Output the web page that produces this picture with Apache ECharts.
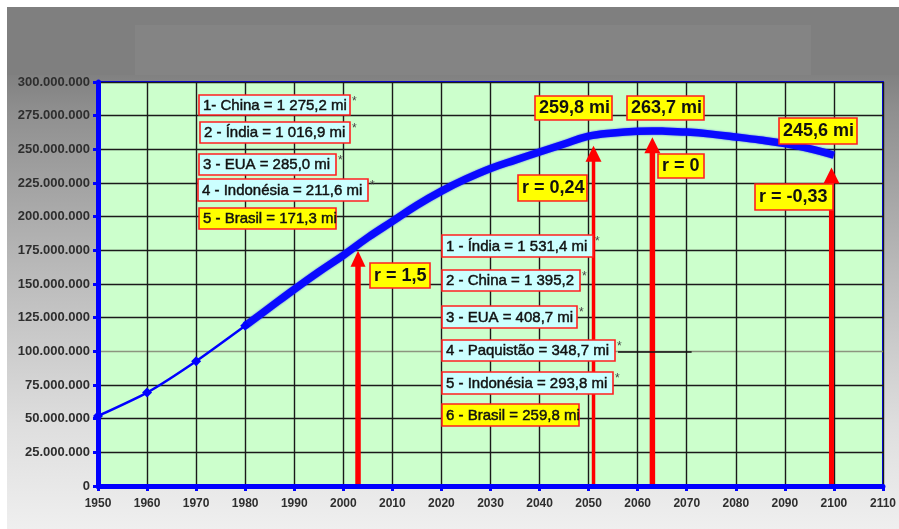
<!DOCTYPE html>
<html>
<head>
<meta charset="utf-8">
<script src="https://cdn.jsdelivr.net/npm/echarts@6/dist/echarts.min.js"></script>
<style>
  html, body { margin: 0; padding: 0; background: #ffffff; }
  #chart { width: 899px; height: 529px; }
</style>
</head>
<body>
<div id="chart"></div>
<script>
// População do Brasil (milhões de habitantes), 1950–2100
const anosCenso = [1950, 1960, 1970, 1980];
const popCenso = [52.0, 69.4, 92.7, 119.0];

const anosProjecao = [1980, 1985, 1990, 1995, 2000, 2005, 2010, 2015, 2020, 2025, 2030, 2035,
  2040, 2045, 2050, 2055, 2060, 2063, 2065, 2070, 2075, 2080, 2085, 2090, 2095, 2100];
const popProjecao = [119.0, 132.5, 146.0, 159.0, 171.3, 184.5, 196.5, 208.5, 219.0, 228.0, 235.8, 242.0,
  248.0, 254.0, 259.8, 262.2, 263.5, 263.7, 263.6, 262.8, 261.3, 259.2, 256.9, 254.2, 250.5, 245.6];

// Setas de taxa de crescimento (ano, topo da seta em milhões)
const anosSetas = [2003, 2051, 2063, 2099.5];
const topoSetas = [174.7, 252.6, 259.0, 236.5];
const taxas = ['1,5', '0,24', '0', '-0,33'];

// Valores em destaque
const destaqueValores = [259.8, 263.7, 245.6];

// Rankings populacionais
const ranking2000 = ['1- China = 1 275,2 mi', '2 - Índia = 1 016,9 mi', '3 - EUA = 285,0 mi',
  '4 - Indonésia = 211,6 mi', '5 - Brasil = 171,3 mi'];
const ranking2050 = ['1 - Índia = 1 531,4 mi', '2 - China = 1 395,2', '3 - EUA = 408,7 mi',
  '4 - Paquistão = 348,7 mi', '5 - Indonésia = 293,8 mi', '6 - Brasil = 259,8 mi'];

const yTicks = [0, 25, 50, 75, 100, 125, 150, 175, 200, 225, 250, 275, 300];

// ---- layout / style ----
const AZUL = '#0000ff';
const VERMELHO = '#ff0000';
const FONTE = '"Liberation Sans", Arial, sans-serif';

const caixas2000 = [
  [199, 95, 151, 20], [200, 122, 150, 21], [199, 154, 137, 21], [198, 179, 170, 22], [199, 208, 137, 21]
];
const caixas2050 = [
  [442, 235, 151, 22], [442, 270, 138, 21], [442, 306, 135, 22], [442, 340, 173, 21], [442, 372, 171, 22], [442, 404, 137, 22]
];
const caixasValores = [[535, 96, 77, 24], [627, 96, 77, 24], [779, 118, 78, 26]];
const caixasTaxas = [[370, 263, 60, 25], [518, 175, 69, 26], [658, 154, 46, 24], [755, 184, 78, 26]];
const estiloSetas = [
  { w: 5.5, hw: 15, head: 16 },
  { w: 3.5, hw: 16, head: 16 },
  { w: 5.5, hw: 16, head: 16 },
  { w: 5, hw: 16, head: 16 }
];

function fmtMi(v) { return v.toFixed(1).replace('.', ',') + ' mi'; }
function fmtEixo(v) { return v === 0 ? '0' : v + '.000.000'; }

const Z_CAIXA = 100;

function caixa(b, texto, fundo, fonte, asterisco, traco) {
  const children = [
    { type: 'rect', z: Z_CAIXA, shape: { x: b[0], y: b[1], width: b[2], height: b[3] },
      style: { fill: fundo, stroke: '#ff2020', lineWidth: 1.6 } },
    { type: 'text', z: Z_CAIXA + 1, style: { x: b[0] + 4, y: b[1] + b[3] / 2 + 0.5, text: texto, font: fonte,
      fill: '#111111', stroke: '#111111', lineWidth: traco, verticalAlign: 'middle', align: 'left' } }
  ];
  if (asterisco) {
    children.push({ type: 'text', z: Z_CAIXA + 1, style: { x: b[0] + b[2] + 2, y: b[1] + 1, text: '*',
      font: '12px ' + FONTE, fill: '#444444', verticalAlign: 'top', align: 'left' } });
  }
  return children;
}

const graficos = [
  // moldura de fundo
  { type: 'rect', z: -20, shape: { x: 7, y: 7, width: 892, height: 522 },
    style: { fill: new echarts.graphic.LinearGradient(0, 0, 0, 1, [
      { offset: 0, color: '#7f7f7f' }, { offset: 0.13, color: '#818181' },
      { offset: 0.2, color: '#8f8f8f' }, { offset: 0.5, color: '#b9b9b9' },
      { offset: 0.8, color: '#dedede' }, { offset: 1, color: '#efefef' }]) } },
  { type: 'rect', z: -19, shape: { x: 7, y: 7, width: 892, height: 68 }, style: { fill: '#7f7f7f' } },
  { type: 'rect', z: -18, shape: { x: 135, y: 25, width: 676, height: 50 }, style: { fill: '#848484' } }
];
ranking2000.forEach((t, i) => graficos.push(...caixa(caixas2000[i], t, i === 4 ? '#ffff00' : '#ccffff', '15px ' + FONTE, i < 4, 0.45)));
ranking2050.forEach((t, i) => graficos.push(...caixa(caixas2050[i], t, i === 5 ? '#ffff00' : '#ccffff', '15px ' + FONTE, i < 5, 0.45)));
destaqueValores.forEach((v, i) => graficos.push(...caixa(caixasValores[i], fmtMi(v), '#ffff00', 'bold 18px ' + FONTE, false, 0)));
taxas.forEach((t, i) => graficos.push(...caixa(caixasTaxas[i], 'r = ' + t, '#ffff00', 'bold 18px ' + FONTE, false, 0)));

const chart = echarts.init(document.getElementById('chart'), null, { renderer: 'canvas' });

const corGradeY = yTicks.map(v => v === 100 ? '#8d957f' : '#1a1a1a');

chart.setOption({
  backgroundColor: 'transparent',
  animation: false,
  graphic: { elements: graficos },
  grid: { left: 98, right: 15, top: 82, bottom: 43, show: true,
    backgroundColor: '#ccffcc', borderColor: AZUL, borderWidth: 2 },
  xAxis: {
    type: 'value', min: 1950, max: 2110, interval: 10,
    axisLine: { show: true, lineStyle: { color: AZUL, width: 5 } },
    axisTick: { show: true, length: 5, lineStyle: { color: AZUL, width: 3 } },
    axisLabel: { color: '#2e2e2e', fontFamily: FONTE, fontWeight: 'bold', fontSize: 12, margin: 12,
      formatter: v => String(v) },
    splitLine: { show: true, lineStyle: { color: '#1a1a1a', width: 1.4 } }
  },
  yAxis: {
    type: 'value', min: 0, max: 300, interval: 25,
    axisLine: { show: true, lineStyle: { color: AZUL, width: 5 } },
    axisTick: { show: true, length: 5, lineStyle: { color: AZUL, width: 3 } },
    axisLabel: { color: '#2e2e2e', fontFamily: FONTE, fontWeight: 'bold', fontSize: 13, margin: 8,
      formatter: fmtEixo },
    splitLine: { show: true, lineStyle: { color: corGradeY, width: 1.4 } }
  },
  series: [
    {
      type: 'line', name: 'censo',
      data: anosCenso.map((a, i) => [a, popCenso[i]]),
      smooth: 0.2, symbol: 'diamond', symbolSize: 10,
      lineStyle: { color: AZUL, width: 2.5 }, itemStyle: { color: AZUL },
      z: 5
    },
    {
      type: 'line', name: 'projeção',
      data: anosProjecao.map((a, i) => [a, popProjecao[i]]),
      smooth: 0.4, showSymbol: false,
      lineStyle: { color: '#0a0aff', width: 7.5, shadowColor: 'rgba(0,0,255,0.6)', shadowBlur: 2 },
      z: 5,
      markLine: {
        silent: true, symbol: 'none', label: { show: false },
        lineStyle: { color: '#111111', width: 1.5, type: 'solid' },
        data: [[{ coord: [2056, 100] }, { coord: [2071, 100] }]]
      }
    },
    {
      type: 'custom', name: 'taxas',
      data: anosSetas.map((a, i) => [a, topoSetas[i]]),
      clip: false, z: 4,
      renderItem: function (params, api) {
        const p = api.coord([api.value(0), api.value(1)]);
        const b = api.coord([api.value(0), 0]);
        const s = estiloSetas[params.dataIndex];
        const topoHaste = p[1] + s.head - 1;
        return {
          type: 'group',
          children: [
            { type: 'rect', shape: { x: p[0] - s.w / 2, y: topoHaste, width: s.w, height: b[1] - 2 - topoHaste },
              style: { fill: VERMELHO } },
            { type: 'polygon', shape: { points: [[p[0], p[1]], [p[0] - s.hw / 2, p[1] + s.head], [p[0] + s.hw / 2, p[1] + s.head]] },
              style: { fill: VERMELHO } }
          ]
        };
      }
    }
  ]
});
</script>
</body>
</html>
